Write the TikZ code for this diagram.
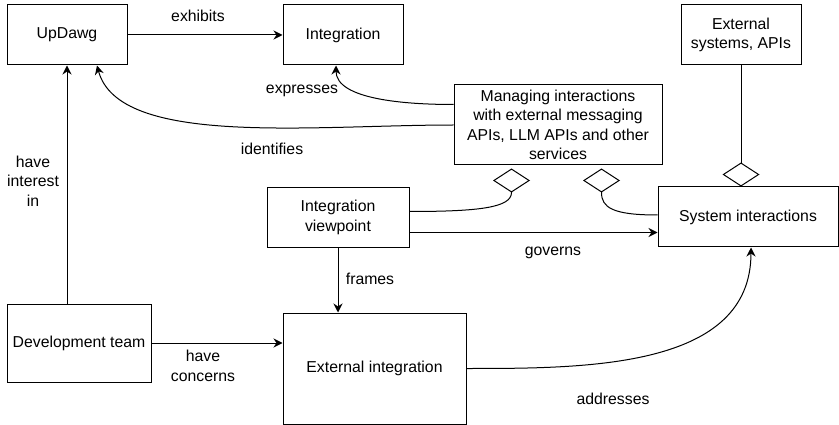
\documentclass[tikz,border=0pt]{standalone}
\usepackage{fontspec}
\setmainfont{Liberation Sans}
\usetikzlibrary{arrows.meta}

\begin{document}
\begin{tikzpicture}[x=1pt, y=1pt, line width=1pt,
        font=\fontsize{15.8}{19.5}\selectfont,
        box/.style={draw, align=center, inner sep=0pt},
        rel/.style={-{Stealth[length=9pt, width=9pt, inset=3pt]}},
        agg/.style={-{Diamond[open, length=24pt, width=37pt]}},
        lbl/.style={align=center, inner sep=0pt}]
    \useasboundingbox (0,0) rectangle (839,-425);
    % Boxes
    \node[box, minimum width=120pt, minimum height=60pt] (updawg) at (67,-35) {UpDawg};
    \node[box, minimum width=120pt, minimum height=60pt] (integ) at (343,-35) {Integration};
    \node[box, minimum width=120pt, minimum height=60pt] (extsys) at (741,-35) {External\\systems, APIs};
    \node[box, minimum width=208pt, minimum height=80pt] (manage) at (558,-125)
        {Managing interactions\\with external messaging\\APIs, LLM APIs and other\\services};
    \node[box, minimum width=142pt, minimum height=60pt] (viewpoint) at (338,-217.5) {Integration\\viewpoint};
    \node[box, minimum width=180pt, minimum height=60pt] (sys) at (748,-217) {System interactions};
    \node[box, minimum width=144pt, minimum height=78pt] (dev) at (79,-343) {Development team};
    \node[box, minimum width=183pt, minimum height=111pt] (extint) at (374.5,-368.5) {External integration};
    % Relations
    \draw[rel] (updawg) -- (integ);
    \draw[rel] (dev.north -| updawg.south) -- (updawg.south);
    \draw[rel] (dev.east) -- (dev.east -| extint.west);
    \draw[rel] (viewpoint.south) -- (viewpoint.south |- extint.north);
    \draw[rel] ([yshift=-15pt]viewpoint.east) -- ([yshift=-15pt]viewpoint.east -| sys.west);
    \draw[rel] ([yshift=-20pt]manage.north west) to[out=180, in=-90, in looseness=0.7] ([xshift=-7pt]integ.south);
    \draw[rel] (manage.west) to[out=180, in=-75, in looseness=0.6] ([xshift=30pt]updawg.south);
    \draw[rel] (extint.east) to[out=0, in=-90] ([xshift=3pt]sys.south);
    % Aggregations
    \draw[agg] (extsys.south) -- (extsys.south |- sys.north);
    \draw[agg, shorten >=3pt] ([yshift=6pt]viewpoint.east) .. controls +(70,0) and +(0,-15) ..
        ([xshift=58pt, yshift=-27pt]manage.south west) -- ([xshift=58pt]manage.south west);
    \draw[agg, shorten >=3pt] ([yshift=2pt]sys.west) .. controls +(-45,0) and +(0,-15) ..
        ([xshift=148pt, yshift=-27pt]manage.south west) -- ([xshift=148pt]manage.south west);
    % Labels
    \node[lbl] (exhibits) at (198,-16) {exhibits};
    \node[lbl] (expresses) at (302,-91) {expresses};
    \node[lbl] (identifies) at (272,-149) {identifies};
    \node[lbl] (interest) at (33,-181) {have\\interest\\in};
    \node[lbl] (concerns) at (203,-366) {have\\concerns};
    \node[lbl] (frames) at (370,-279) {frames};
    \node[lbl] (governs) at (553,-253) {governs};
    \node[lbl] (addresses) at (613,-399) {addresses};
\end{tikzpicture}
\end{document}
